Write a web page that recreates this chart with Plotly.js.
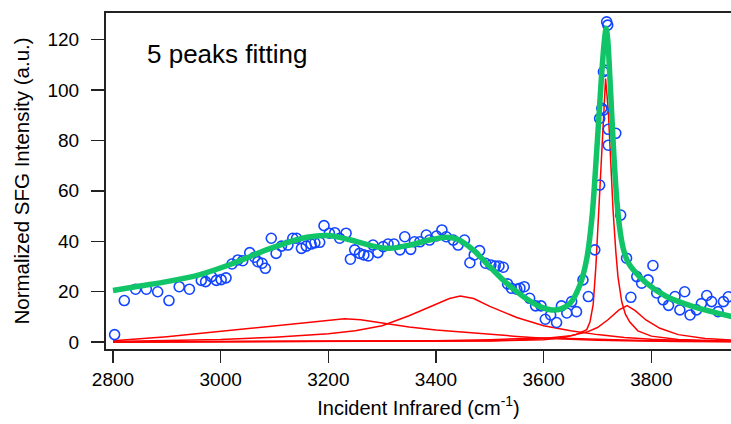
<!DOCTYPE html>
<html>
<head>
<meta charset="utf-8">
<script src="https://cdn.plot.ly/plotly-3.0.1.min.js"></script>
<style>
  html, body { margin: 0; padding: 0; background: #ffffff; }
  #chart { width: 731px; height: 424px; }
</style>
</head>
<body>
<div id="chart"></div>
<script>
// Measured SFG spectrum (wavenumber, normalized intensity)
const dataX = [
  2803, 2821, 2842, 2862, 2883, 2904, 2923, 2942, 2964, 2972, 2983, 2992, 3001, 3010,
  3021, 3032, 3041, 3054, 3063, 3069, 3077, 3083, 3094, 3103, 3113, 3125, 3134, 3141,
  3150, 3159, 3168, 3175, 3184, 3192, 3202, 3212, 3221, 3233, 3241, 3249, 3258, 3266,
  3274, 3283, 3292, 3302, 3311, 3322, 3333, 3342, 3353, 3360, 3370, 3382, 3388, 3401,
  3411, 3419, 3432, 3441, 3453, 3463, 3471, 3481, 3492, 3502, 3510, 3517, 3525, 3533,
  3540, 3550, 3556, 3564, 3574, 3585, 3595, 3603, 3613, 3624, 3633, 3643, 3652, 3661,
  3673, 3683, 3695, 3704, 3704, 3708, 3711, 3711, 3715, 3717, 3719, 3720, 3720, 3734,
  3743, 3754, 3762, 3773, 3782, 3794, 3803, 3810, 3822, 3832, 3844, 3853, 3862, 3872,
  3884, 3893, 3903, 3912, 3924, 3934, 3943
];
const dataY = [
  3.0, 16.5, 21.0, 21.0, 20.0, 16.5, 22.0, 21.0, 24.5, 24.0, 26.0, 24.5, 24.8, 25.5,
  31.0, 32.6, 32.3, 35.5, 33.7, 31.9, 31.3, 29.3, 41.2, 35.2, 38.1, 38.5, 41.2, 41.2,
  37.2, 38.1, 38.9, 39.4, 39.6, 46.2, 43.2, 43.4, 41.2, 43.2, 32.9, 36.6, 35.2, 34.6,
  34.2, 38.5, 35.5, 37.9, 38.9, 38.9, 36.6, 41.8, 36.8, 39.8, 39.8, 42.5, 40.5, 42.1,
  44.5, 41.8, 40.5, 38.5, 40.5, 31.5, 34.6, 36.3, 31.3, 30.6, 30.2, 30.2, 29.7, 23.1,
  21.4, 21.0, 21.4, 22.0, 17.4, 14.4, 14.4, 9.1, 10.8, 7.8, 14.4, 11.6, 16.1, 12.1,
  24.7, 18.1, 36.6, 62.3, 88.7, 92.7, 92.0, 107.2, 107.8, 127.0, 125.7, 84.4, 78.1, 82.8,
  50.4, 33.3, 17.8, 26.0, 23.4, 24.7, 30.4, 19.5, 16.8, 14.6, 18.1, 12.8, 20.0, 10.8,
  12.8, 15.3, 18.5, 16.1, 12.1, 16.1, 18.0
];

// Total 5-peak fit
const fitX = [
  2800, 2850, 2900, 2960, 3020, 3085, 3120, 3160, 3200, 3240, 3283, 3314, 3351, 3388,
  3419, 3440, 3469, 3500, 3531, 3562, 3593, 3615, 3632, 3649, 3667, 3680, 3690, 3698,
  3704, 3709, 3713, 3716, 3719, 3723, 3727, 3731, 3736, 3742, 3748, 3756, 3766, 3791,
  3828, 3878, 3950
];
const fitY = [
  20.5, 22.3, 24.0, 26.7, 31.0, 36.6, 39.2, 41.6, 42.3, 40.6, 38.1, 37.2, 38.5, 40.5,
  41.6, 40.8, 36.6, 29.9, 23.4, 18.1, 14.1, 12.8, 13.2, 15.4, 22.5, 33.0, 50.0, 74.0,
  94.0, 110.0, 120.0, 124.5, 120.0, 105.0, 88.0, 72.0, 56.0, 44.0, 37.0, 32.0, 28.8, 23.4,
  18.1, 14.1, 10.1
];

// Individual resonance components
const p1X = [2800, 2850, 2900, 2950, 3000, 3050, 3100, 3150, 3200, 3230, 3260, 3300, 3350, 3400, 3450, 3500, 3550, 3600, 3650, 3700, 3750, 3800, 3850, 3950];
const p1Y = [0.6, 1.3, 2.2, 3.2, 4.3, 5.4, 6.6, 7.8, 8.8, 9.3, 8.9, 7.6, 6.0, 4.8, 3.9, 3.1, 2.3, 1.6, 1.1, 0.8, 0.6, 0.4, 0.3, 0.2];

const p2X = [2800, 2900, 3000, 3100, 3200, 3250, 3300, 3350, 3400, 3425, 3445, 3470, 3500, 3550, 3600, 3650, 3700, 3750, 3800, 3850, 3950];
const p2Y = [0.3, 0.6, 1.1, 2.0, 3.3, 4.5, 6.5, 10.5, 15.2, 17.3, 18.3, 17.3, 14.2, 9.8, 6.5, 4.5, 3.0, 1.9, 1.2, 0.8, 0.4];

const p3X = [2800, 3400, 3500, 3600, 3640, 3660, 3680, 3686, 3692, 3697, 3702, 3707, 3711, 3715, 3720, 3724, 3729, 3734, 3738, 3745, 3752, 3760, 3775, 3800, 3850, 3950];
const p3Y = [0.1, 0.3, 0.5, 1.0, 2.0, 3.0, 5.0, 8.0, 15.0, 30.0, 52.0, 75.0, 92.0, 104.5, 92.0, 72.0, 52.0, 36.0, 26.0, 16.0, 11.0, 8.0, 4.5, 2.4, 1.1, 0.4];

const p4X = [2800, 3400, 3500, 3550, 3600, 3650, 3680, 3700, 3720, 3740, 3755, 3770, 3790, 3816, 3850, 3900, 3950];
const p4Y = [0.1, 0.3, 0.6, 0.9, 1.5, 2.6, 4.0, 5.8, 9.0, 12.8, 14.5, 12.5, 8.8, 5.5, 3.0, 1.5, 0.8];

const p5X = [2800, 3000, 3200, 3400, 3500, 3550, 3600, 3650, 3700, 3800, 3950];
const p5Y = [0.1, 0.2, 0.3, 0.6, 1.0, 1.4, 1.7, 1.5, 1.1, 0.6, 0.3];

const xTicks = [2800, 3000, 3200, 3400, 3600, 3800];
const yTicks = [0, 20, 40, 60, 80, 100, 120];

const FONT = 'Liberation Sans, Arial, sans-serif';
const RED = '#ff0000';

const comp = (x, y) => ({
  x: x, y: y, type: 'scatter', mode: 'lines',
  line: { color: RED, width: 1.5 }, hoverinfo: 'skip'
});

const traces = [
  comp(p5X, p5Y), comp(p1X, p1Y), comp(p2X, p2Y), comp(p4X, p4Y), comp(p3X, p3Y),
  {
    x: dataX, y: dataY, type: 'scatter', mode: 'markers',
    marker: { symbol: 'circle-open', size: 10, color: '#1245ff', line: { width: 1.6, color: '#1245ff' } }
  },
  {
    x: fitX, y: fitY, type: 'scatter', mode: 'lines',
    line: { color: '#12c468', width: 5.5, shape: 'spline', smoothing: 0.8 }
  }
];

const layout = {
  width: 731, height: 424,
  margin: { l: 106, r: 0, t: 13, b: 75 },
  paper_bgcolor: '#ffffff', plot_bgcolor: '#ffffff',
  showlegend: false,
  font: { family: FONT, color: '#000000', size: 19 },
  xaxis: {
    range: [2787, 3948], tickvals: xTicks, ticktext: xTicks.map(String),
    ticks: 'outside', ticklen: 12, tickwidth: 1.5, tickcolor: '#222',
    showline: true, linecolor: '#222', linewidth: 2, mirror: true,
    showgrid: false, zeroline: false,
    tickfont: { family: FONT, size: 19 },
    title: { text: 'Incident Infrared (cm<sup>-1</sup>)', font: { family: FONT, size: 20 }, standoff: 12 }
  },
  yaxis: {
    range: [-2.7, 130.5], tickvals: yTicks, ticktext: yTicks.map(String),
    ticks: 'outside', ticklen: 13, tickwidth: 1.5, tickcolor: '#222',
    showline: true, linecolor: '#222', linewidth: 2, mirror: false,
    showgrid: false, zeroline: false,
    tickfont: { family: FONT, size: 19 },
    ticklabelstandoff: 8,
    title: { text: 'Normalized SFG Intensity (a.u.)', font: { family: FONT, size: 20.5 }, standoff: 12 }
  },
  annotations: [{
    xref: 'paper', yref: 'paper', x: 0.062, y: 0.878,
    xanchor: 'left', yanchor: 'middle', showarrow: false,
    text: '5 peaks fitting', font: { family: FONT, size: 26, color: '#000' }
  }]
};

Plotly.newPlot('chart', traces, layout, { displayModeBar: false, staticPlot: true });
</script>
</body>
</html>
